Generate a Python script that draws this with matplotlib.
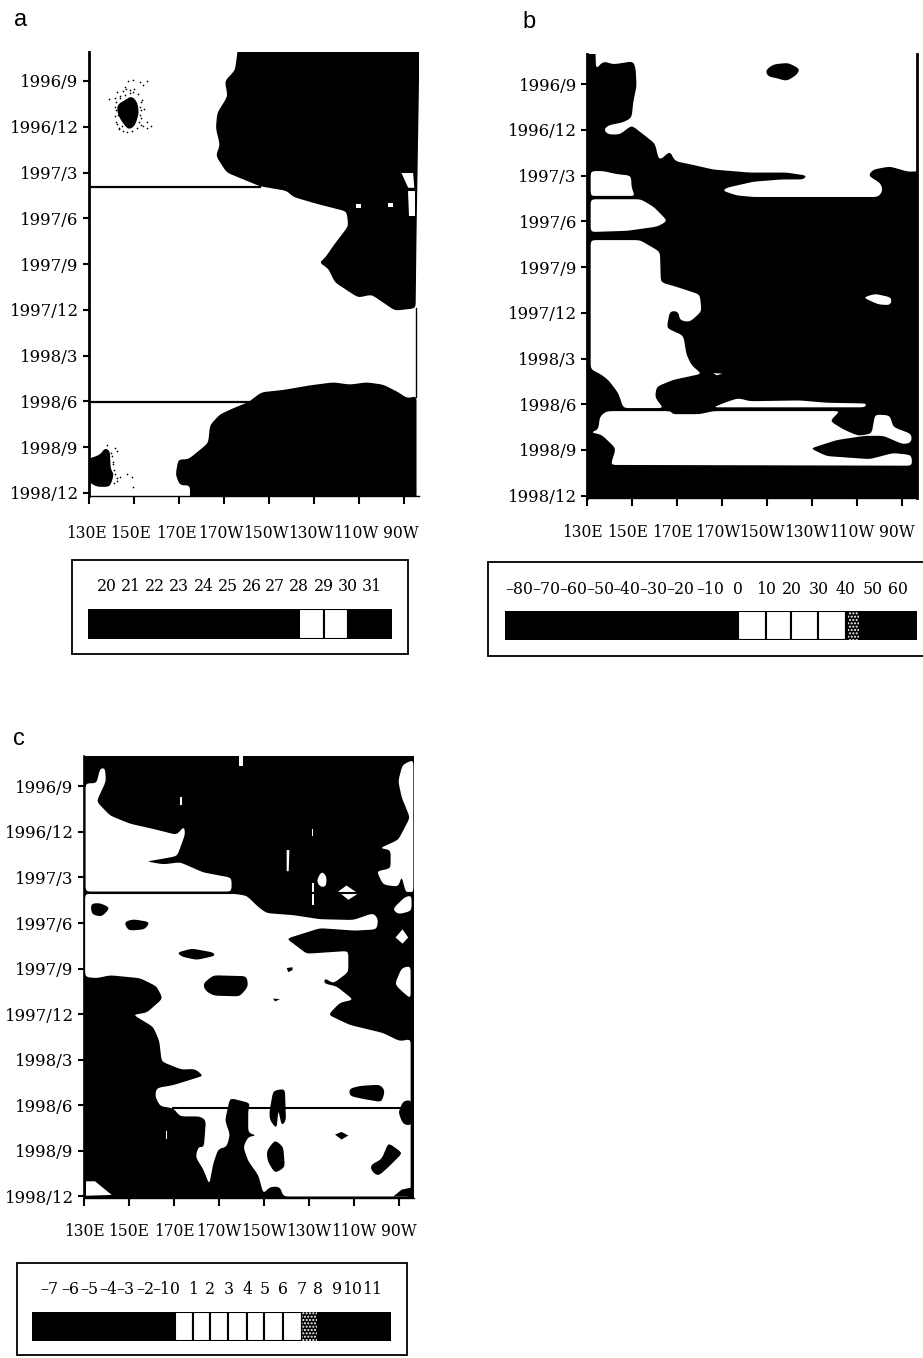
import matplotlib
matplotlib.use("Agg")
import matplotlib.pyplot as plt
from matplotlib.patches import Rectangle
from matplotlib.transforms import ScaledTranslation

W, H = 923, 1358
plt.rcParams['font.family'] = ['DejaVu Serif']

# tick values: longitude in degrees east, time in months since 1996/9
lon_ticks = [130, 150, 170, 190, 210, 230, 250, 270]
lon_labels = ['130E', '150E', '170E', '170W', '150W', '130W', '110W', '90W']
month_ticks = [0, 3, 6, 9, 12, 15, 18, 21, 24, 27]
month_labels = ['1996/9', '1996/12', '1997/3', '1997/6', '1997/9', '1997/12',
                '1998/3', '1998/6', '1998/9', '1998/12']

# panel a, outlines as (lon, month)
a_warm_top = [(197, -3), (194.9, -0.7), (190.4, 0), (191.6, 1), (187, 2.1), (186.4, 3.1),
              (188.2, 4.2), (186.4, 4.9), (191.2, 6), (206, 6.9), (217.9, 7.2), (220.8, 7.6),
              (231.2, 8.05), (244.5, 8.55), (245.3, 9.5), (238.6, 10.8), (234.9, 11.6),
              (232.4, 11.9), (236.4, 12.3), (239.3, 13.2), (249.7, 14.2), (255.6, 14), (266, 15.05),
              (275.2, 14.9), (275.6, 10), (276.7, 0), (277.5, -3)]
a_warm_bottom = [(200.8, 21.05), (206.7, 20.4), (216.4, 20.25), (228.2, 19.95), (238.6, 19.75),
                 (246, 19.9), (253.4, 19.75), (260.8, 19.9), (267.5, 20.4), (271.5, 20.8),
                 (275.6, 20.65), (275.6, 28), (174.9, 28), (174.9, 26.5), (170.4, 26.5),
                 (168.5, 25.8), (169.7, 24.8), (174.1, 24.8), (180.8, 24), (183, 23.7),
                 (183.8, 22.55), (188.2, 21.85), (194.1, 21.45)]
a_blob_west = [(129, 24.8), (134.9, 24.5), (137.1, 24.05), (139.3, 24.25), (139.6, 25.4),
               (141.1, 25.8), (139.3, 26.6), (133.4, 26.6), (129, 26.2)]
a_blob_north = [(142.6, 1.55), (146, 1.25), (149, 0.98), (151.5, 1.4), (152.2, 2.1),
                (150.4, 2.95), (147.5, 3.2), (144.5, 2.65), (142.6, 2.1)]
a_holes = [[(268.9, 6.03), (274.1, 6.03), (274.6, 7), (271.9, 7)],
           [(271.9, 7.2), (274.9, 7.2), (274.9, 8.85), (272.4, 8.85)],
           [(248.6, 8.07), (251.1, 8.07), (251.1, 8.35), (248.9, 8.35)],
           [(262.7, 8.02), (265, 8.02), (265, 8.24), (262.7, 8.24)]]
a_speckle_lon = [147.5, 149.7, 152.6, 155.6, 146, 154.1, 142.6, 143.8, 141.5, 138.9, 153.4, 154.4,
                 152.6, 155.6, 157.4, 154.1, 155.6, 142.3, 143, 141.5, 152.6, 152.3, 144.5, 151.2,
                 137.8, 141.5, 142.3, 141.5, 143.8, 146.7, 148.9, 149.7, 142.3, 140, 140.8, 141.1,
                 141.8, 142, 141.6, 142.2, 143.5, 145.3, 147, 149, 152.9, 153, 153.2, 152.9, 151.6,
                 149.6, 148.4, 146, 144, 143.3, 144.9, 146.6, 148.3, 150.2, 140.4, 140.7, 141, 142.6]
a_speckle_mon = [0, -0.06, 0.06, 0, 0.42, 0.28, 0.7, 0.98, 1.12, 1.18, 1.26, 1.82,
                 2.24, 2.66, 2.94, 2.94, 3.08, 2.8, 2.24, 1.68, 1.68, 2.66, 2.94, 3.08,
                 23.83, 24.05, 24.25, 25.79, 25.93, 25.79, 25.93, 26.63, 26.21, 24.39, 24.95, 26.35,
                 1.4, 1.9, 2.3, 2.7, 3.05, 3.3, 3.35, 3.3, 2.4, 1.9, 1.4, 2.9, 0.85,
                 0.75, 0.8, 0.95, 1.1, 3.15, 0.65, 0.55, 0.6, 0.5, 24.6, 25.1, 25.5, 26.0]

# panel b
b_black_main = [(130.4, -3), (133.4, -3), (133.9, -1), (137.1, -1.5), (141.6, -1.3), (150.4, -1.5),
                (151.5, -1), (151.9, 0.1), (150.4, 1.2), (149.7, 2.2), (146, 2.5), (139.3, 2.7),
                (137.4, 3), (139.3, 3.3), (144.5, 3.3), (149.7, 2.7), (154.1, 3.2), (160.1, 3.9),
                (161.6, 4.85), (163, 4.9), (166.7, 4.4), (169, 5.05), (177.1, 5.3), (186, 5.6),
                (202.3, 5.8), (218.6, 5.8), (227.5, 6), (226, 6.25), (216.4, 6.25), (203.8, 6.4),
                (191.9, 6.8), (190.4, 7), (196.4, 7.3), (203.8, 7.4), (259.3, 7.4), (261.3, 7),
                (260.4, 6.5), (254.9, 6), (257.1, 5.6), (264.5, 5.4), (272.7, 5.75), (278, 5.7),
                (278, 28), (129, 28), (129, 5)]
b_white_1 = [(131.5, 5.7), (137.1, 5.7), (143, 5.9), (149.4, 6), (149.7, 6.8), (151.2, 7.35), (131.5, 7.35)]
b_white_2 = [(131.5, 7.55), (153.8, 7.55), (159.7, 8.07), (165.6, 8.97), (161.2, 9.34), (147.7, 9.62),
             (131.5, 9.7)]
b_white_3 = [(131.5, 10.23), (153.4, 10.23), (162.3, 11), (162.7, 13), (169.7, 13.3), (180, 13.8),
             (180.8, 14.9), (175.6, 15.6), (171.2, 15.5), (170.4, 14.9), (166.7, 14.9), (165.3, 16),
             (172.7, 16.5), (174.1, 17.75), (176.4, 18.45), (180.8, 19), (168.2, 19.4), (160.8, 19.85),
             (160.1, 20.55), (163.8, 21.25), (146, 21.25), (143.8, 20.27), (139.3, 19.4), (135.6, 19),
             (131.5, 18.7)]
b_white_4 = [(186, 21.2), (191.9, 20.85), (197.1, 20.6), (202.3, 20.8), (224.5, 20.75), (236.4, 20.9),
             (254.1, 20.95), (253.4, 21.2)]
b_white_5 = [(138.6, 21.45), (167, 21.45), (168, 21.65), (180, 21.65), (186, 21.45), (242.3, 21.45),
             (237.9, 22.1), (243.8, 22.65), (250.4, 23.07), (256.4, 22.93), (257.9, 21.67), (264.5, 21.73),
             (266, 22.5), (274.1, 22.95), (274.1, 23.5), (270.4, 23.63), (261.6, 23.07), (253.4, 23.07),
             (240.8, 23.35), (229.3, 23.9), (236.4, 24.4), (255.6, 24.6), (266, 24.2), (274.1, 24.33),
             (274.4, 25.03), (140.4, 24.98), (142.7, 23.9), (136.4, 23), (131.6, 22.85), (134.9, 22.65),
             (135.6, 21.8)]
b_white_small = [(186, 18.95), (190.1, 19), (187.5, 19.1)]
b_white_east = [(252.7, 14), (257.9, 13.75), (265.3, 14), (264.8, 14.5), (259.3, 14.45)]
b_black_north = [(209.2, -0.9), (212.7, -1.3), (219.3, -1.4), (224.5, -1), (223, -0.6), (218.6, -0.2),
                 (214.1, -0.4), (210.4, -0.5)]

# panel c
c_black_all = [(130, -2), (276.6, -2), (276.6, 27.1), (130, 27.1)]
c_white_north = [(130.7, 6.93), (130.7, -0.2), (135.6, -0.2), (137.1, -1.15), (139.3, -1.2), (139.8, -0.35),
                 (135.6, 1), (141.6, 1.93), (150.4, 2.46), (162.3, 2.86), (171.2, 3.2), (174.4, 2.65),
                 (175, 3.13), (172.4, 4.2), (171.2, 4.6), (163.8, 4.8), (157.9, 4.95), (165.3, 5.14),
                 (172.7, 5), (183, 5.67), (195.6, 6.02), (195.6, 6.93)]
c_white_main = [(130.5, 7.07), (196.4, 7.07), (202.3, 7.2), (207.5, 7.95), (211.2, 8.35), (223, 8.48),
                (234.9, 8.75), (249.7, 8.8), (258.6, 8.35), (260.8, 8.75), (260.1, 9.42), (250.4, 9.5),
                (234.9, 9.34), (220.1, 10.03), (226.7, 10.76), (229, 11.02), (247.5, 10.84), (247.5, 12.23),
                (240.8, 12.98), (237.1, 12.63), (236.7, 12.98), (242.3, 13.17), (249.7, 14.05), (243.8, 14.24),
                (238.6, 15.04), (248.2, 15.71), (263, 16.24), (270.4, 16.78), (275.2, 16.64), (275.2, 27),
                (218.6, 27), (217.1, 26.36), (212.7, 26.36), (209.7, 26.81), (207.5, 25.6), (203, 24.67),
                (200.8, 23.74), (203, 23.07), (206.7, 22.99), (203, 22.8), (203, 21.33), (203.8, 20.85),
                (194.9, 20.52), (192.7, 22), (194.9, 22.93), (193.4, 23.74), (189.7, 23.87), (187.5, 24.81),
                (185.7, 26.2), (183, 25.21), (179.6, 24.4), (180.8, 23.74), (183.3, 23.74), (184.2, 22),
                (181.6, 21.73), (172.7, 21.73), (169.7, 21.19), (163.8, 21.06), (161.6, 20.39), (162.3, 19.86),
                (169.7, 19.67), (180.1, 19.19), (183, 19.05), (179.3, 18.6), (173.4, 18.65), (164.5, 18.12),
                (163.5, 16.78), (160.8, 15.84), (151.9, 15.04), (157.9, 14.9), (165, 13.97), (162.3, 13.17),
                (154.9, 12.63), (141.6, 12.44), (135.6, 12.63), (130.5, 12.55)]
c_white_others = [
    [(269.7, -0.35), (271.6, -1.42), (276.4, -1.74), (276.4, 7), (273.1, 7), (271.2, 5.94), (269.7, 6.61),
     (263, 6.48), (260.1, 5.59), (266.3, 5.41), (266.3, 4.2), (261.6, 4.07), (269.7, 3.53), (274.9, 2.06),
     (271.2, 0.72)],
    [(267.2, 8.08), (272.7, 7.28), (275.6, 7.2), (275.6, 8.2), (269.7, 8.43)],
    [(268.5, 9.95), (271.6, 9.42), (274.1, 9.95), (271.6, 10.36)],
    [(268.2, 13.03), (271.2, 11.96), (275.2, 11.83), (275.2, 13.97), (271.9, 13.57)],
    [(233.4, 6.21), (235.6, 5.59), (237.9, 5.94), (237.6, 6.61), (234.9, 6.61)],
    [(243, 6.93), (246.7, 6.53), (251.9, 7.06), (247.5, 7.47)],
    [(220.1, 4.2), (221.3, 4.2), (221, 5.59), (220.1, 5.59)],
    [(231.2, 2.81), (231.8, 2.81), (231.8, 3.26), (231.2, 3.26)],
    [(231.2, 6.34), (232.2, 6.34), (232.2, 7.81), (231.2, 7.81)],
    [(172.7, 0.72), (173.7, 0.72), (173.7, 1.26), (172.8, 1.26)],
    [(199, -2), (200.5, -2), (200.5, -1.36), (199, -1.36)],
    [(130.9, 26), (134.9, 26), (142.3, 26.9), (130.9, 26.95)],
    [(166.3, 22.66), (167, 22.66), (167, 23.2), (166.3, 23.2)],
]
c_black_blobs = [
    [(133, 7.73), (137.1, 7.68), (141.6, 8), (137.9, 8.59), (133.4, 8.43)],
    [(147.8, 8.94), (151.9, 8.75), (159.3, 8.94), (157.1, 9.42), (149.7, 9.5)],
    [(171.5, 10.94), (177.9, 10.68), (187.5, 10.94), (188.2, 11.16), (180.1, 11.43), (173.4, 11.21)],
    [(183, 12.98), (187.5, 12.44), (202.3, 12.5), (203, 13.17), (199.3, 13.83), (187.5, 13.78), (183.8, 13.43)],
    [(220.1, 11.96), (222.7, 11.91), (222.7, 12.1), (220.8, 12.23)],
    [(214.1, 13.97), (217.1, 14.02), (214.9, 14.16)],
    [(247.9, 19.91), (252.7, 19.72), (261.6, 19.64), (263.8, 20.04), (262.3, 20.79), (254.1, 20.58), (248.2, 20.39)],
    [(269.7, 21.46), (271.9, 20.71), (275.6, 20.66), (275.6, 22.32), (271.9, 22.26)],
    [(214.1, 20.04), (219.3, 19.91), (219.8, 22), (217.9, 22.34), (216.4, 21.33), (215.6, 22.53), (212.7, 22),
     (212.4, 21.46)],
    [(211.2, 24), (214.9, 23.28), (218.6, 23.74), (219.3, 25.07), (214.9, 25.47), (211.6, 24.67)],
    [(241.6, 22.93), (244.5, 22.75), (247.5, 22.99), (244.5, 23.25)],
    [(257.4, 24.94), (262.3, 24.54), (265.3, 23.47), (271.6, 24.14), (265.3, 25.07), (260.8, 25.66), (257.9, 25.34)],
    [(267.5, 27), (271.2, 26.55), (275.6, 26.41), (275.6, 27)],
]

# colour keys: label positions as read off the scale, which is not quite even
a_ticks = [20, 21, 22, 23, 24, 25, 26, 26.94, 27.96, 28.97, 29.98, 30.97]
a_tick_labels = ['20', '21', '22', '23', '24', '25', '26', '27', '28', '29', '30', '31']
a_levels = [19.23] + a_ticks + [31.79]
a_white = [27.96, 28.97]

b_ticks = [-80.9, -70.8, -61, -51, -41.5, -31.4, -21.5, -10.5, 0, 10.2, 19.7, 29.6, 39.7, 49.6, 59.2]
b_tick_labels = ['\u201380', '\u201370', '\u201360', '\u201350', '\u201340', '\u201330', '\u201320', '\u201310',
                 '0', '10', '20', '30', '40', '50', '60']
b_levels = [-86.2] + b_ticks + [66.1]
b_white = [0, 10.2, 19.7, 29.6]

c_ticks = [-6.98, -5.83, -4.75, -3.72, -2.74, -1.68, -0.75, 0, 1.02, 1.96, 2.98, 4.04, 4.99, 6.05, 7.07, 8,
           9.07, 9.9, 11.02]
c_tick_labels = ['\u20137', '\u20136', '\u20135', '\u20134', '\u20133', '\u20132', '\u20131', '0', '1', '2', '3',
                 '4', '5', '6', '7', '8', '9', '10', '11']
c_levels = [-7.97] + c_ticks + [12.05]
c_white = [0, 1.02, 1.96, 2.98, 4.04, 4.99, 6.05]


def px_axes(fig, left, top, right, bottom):
    return fig.add_axes([left / W, 1 - bottom / H, (right - left) / W, (bottom - top) / H])


# round the corners of an outline, cutting at most a few pixels from each corner
def rounded(shape, rounds=2):
    for _ in range(rounds):
        out = []
        for i, p in enumerate(shape):
            q = shape[(i + 1) % len(shape)]
            size = (((q[0] - p[0]) * 2.25) ** 2 + ((q[1] - p[1]) * 15.2) ** 2) ** 0.5
            t = min(0.25, 2.2 / (size + 0.01))
            out.append((p[0] + t * (q[0] - p[0]), p[1] + t * (q[1] - p[1])))
            out.append((q[0] - t * (q[0] - p[0]), q[1] - t * (q[1] - p[1])))
        shape = out
    return shape


def fill(ax, shape, color):
    if len(shape) > 4:
        shape = rounded(shape)
    ax.fill([p[0] for p in shape], [p[1] for p in shape], color=color, lw=0)


def setup_panel(fig, ax, ylim, pad, shift):
    ax.set_xlim(130, 276.7)
    ax.set_ylim(*ylim)
    ax.set_xticks(lon_ticks, lon_labels)
    ax.set_yticks(month_ticks, month_labels)
    ax.tick_params(axis='x', length=6, width=1.5, pad=pad, labelsize=11.2)
    ax.tick_params(axis='y', length=4.5, width=1.5, pad=3, labelsize=12)
    offset = ScaledTranslation(shift / 100, 0, fig.dpi_scale_trans)
    for label in ax.get_xticklabels():
        label.set_transform(label.get_transform() + offset)
    for s in ['top', 'right']:
        ax.spines[s].set_visible(False)
    ax.spines['left'].set_linewidth(2)
    ax.spines['bottom'].set_linewidth(1)


def draw_key(fig, box, bar, levels, white, ticks, labels, pad, speckle=None):
    fig.add_artist(Rectangle((box[0] / W, 1 - box[3] / H), (box[2] - box[0]) / W, (box[3] - box[1]) / H,
                             transform=fig.transFigure, fc='white', ec='black', lw=1.3, zorder=-1))
    ax = px_axes(fig, *bar)
    ax.patch.set_visible(False)
    ax.set_xlim(levels[0], levels[-1])
    ax.set_ylim(0, 1)
    ax.bar(levels[:-1], 1, width=[b - a for a, b in zip(levels[:-1], levels[1:])], align='edge',
           color=['white' if v in white else 'black' for v in levels[:-1]], edgecolor='black', lw=1.5)
    if speckle:
        ax.bar(speckle[0], 1, width=speckle[1], align='edge', color='black', hatch='.....',
               edgecolor='white', lw=0)
    ax.xaxis.tick_top()
    ax.set_xticks(ticks, labels)
    ax.tick_params(axis='x', length=0, pad=pad, labelsize=11.3)
    ax.set_yticks([])
    for s in ax.spines.values():
        s.set_visible(False)


fig = plt.figure(figsize=(W / 100, H / 100), dpi=100)

# panel a
ax = px_axes(fig, 89, 52, 419, 496)
for shape in [a_warm_top, a_warm_bottom, a_blob_west, a_blob_north]:
    fill(ax, shape, 'black')
for shape in a_holes:
    fill(ax, shape, 'white')
ax.scatter(a_speckle_lon, a_speckle_mon, s=1.5, color='black', lw=0)
ax.plot([130, 206], [6.95, 6.95], color='black', lw=1.6)
ax.plot([130, 200.8], [21.05, 21.05], color='black', lw=1.6)
ax.plot([275.2, 275.2], [14.9, 20.7], color='black', lw=1)
setup_panel(fig, ax, (27.2, -1.9), 15, -3)

# panel b
ax = px_axes(fig, 587.3, 54.3, 917.3, 498)
fill(ax, b_black_main, 'black')
for shape in [b_white_1, b_white_2, b_white_3, b_white_4, b_white_5, b_white_small, b_white_east]:
    fill(ax, shape, 'white')
fill(ax, b_black_north, 'black')
ax.plot([133, 151], [7.4, 7.4], color='black', lw=1.6)
setup_panel(fig, ax, (27.15, -1.96), 13, -5)
ax.spines['right'].set_visible(True)
ax.spines['right'].set_linewidth(2)

# panel c
ax = px_axes(fig, 84, 755.9, 414, 1198)
fill(ax, c_black_all, 'black')
for shape in [c_white_north, c_white_main] + c_white_others:
    fill(ax, shape, 'white')
for shape in c_black_blobs:
    fill(ax, shape, 'black')
ax.plot([131, 276], [7, 7], color='black', lw=1.5)
ax.plot([169.7, 271], [21.2, 21.2], color='black', lw=1.5)
setup_panel(fig, ax, (27.1, -2), 12, 0)
ax.spines['left'].set_linewidth(1.2)

# colour keys
draw_key(fig, (72, 560, 408, 654), (88, 609, 392, 639), a_levels, a_white, a_ticks, a_tick_labels, 10)
draw_key(fig, (488, 562, 930, 656), (505, 611, 917, 640), b_levels, b_white, b_ticks, b_tick_labels, 9,
         speckle=(40.5, 4))
draw_key(fig, (17, 1263, 407, 1355), (32, 1312, 391, 1341), c_levels, c_white, c_ticks, c_tick_labels, 10,
         speckle=(7.07, 0.85))

for label, x, y in [('a', 21, 20), ('b', 529, 22), ('c', 19, 739)]:
    fig.text(x / W, 1 - y / H, label, fontsize=17, family='Liberation Sans', ha='center', va='center')

fig.savefig('out.png', dpi=100)
